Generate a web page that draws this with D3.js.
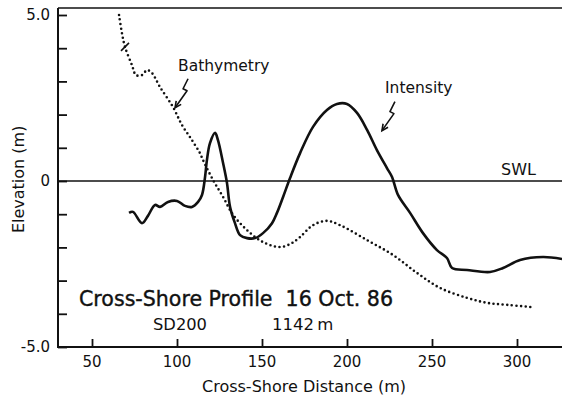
<!DOCTYPE html>
<html>
<head>
<meta charset="utf-8">
<script src="https://cdn.jsdelivr.net/npm/d3@7"></script>
<style>
  html, body { margin: 0; padding: 0; background: #ffffff; }
  svg { display: block; }
  text { font-family: "DejaVu Sans", "Open Sans", sans-serif; fill: #111; }
</style>
</head>
<body>
<svg id="chart" width="562" height="400"></svg>
<script>
// ---- data ----
const bathyX = [65.9, 67.6, 69.4, 73.5, 75.9, 79.4, 82.4, 85.3, 90.0, 97.6, 102.9, 108.8, 113.5, 115.3, 121.2, 127.1, 133.0, 141.2, 150.6, 160.6, 167.6, 172.4, 180.0, 188.2, 195.9, 211.8, 227.1, 241.2, 254.7, 270.6, 282.4, 294.1, 309.4];
const bathyY = [5.0, 4.46, 4.04, 3.49, 3.19, 3.19, 3.34, 3.25, 2.83, 2.23, 1.69, 1.23, 0.84, 0.63, 0.03, -0.48, -1.02, -1.48, -1.84, -1.99, -1.87, -1.69, -1.33, -1.20, -1.33, -1.78, -2.23, -2.77, -3.22, -3.52, -3.67, -3.73, -3.80];

const intenX = [71.8, 74.1, 79.4, 82.9, 87.1, 90.0, 94.7, 100.0, 104.7, 108.8, 112.4, 114.7, 116.5, 117.6, 119.4, 122.4, 124.1, 127.1, 129.4, 131.2, 134.1, 137.1, 141.2, 145.9, 150.6, 155.9, 158.8, 162.4, 166.5, 172.4, 180.0, 188.2, 194.1, 200.0, 205.9, 211.8, 217.6, 223.5, 226.5, 230.0, 237.1, 244.7, 252.9, 258.8, 261.8, 270.6, 284.1, 291.8, 301.8, 315.3, 326.5];
const intenY = [-0.96, -0.93, -1.27, -1.05, -0.72, -0.78, -0.63, -0.60, -0.75, -0.78, -0.63, -0.42, 0.12, 0.63, 1.14, 1.45, 1.23, 0.54, -0.06, -0.78, -1.27, -1.63, -1.72, -1.72, -1.57, -1.27, -0.96, -0.48, 0.09, 0.84, 1.63, 2.14, 2.32, 2.32, 2.05, 1.54, 0.93, 0.39, 0.12, -0.42, -0.96, -1.57, -2.08, -2.32, -2.62, -2.68, -2.74, -2.62, -2.38, -2.29, -2.35];

const xTicks = [50, 100, 150, 200, 250, 300];
const yTicks = [-5, -4, -3, -2, -1, 0, 1, 2, 3, 4, 5];
const yTickLabels = {"5": "5.0", "0": "0", "-5": "-5.0"};

// ---- scales ----
const svg = d3.select("#chart");
const x = d3.scaleLinear().domain([30, 330]).range([58, 568]);
const y = d3.scaleLinear().domain([-5, 5]).range([347, 15]);
const yTop = 5.21;

// frame
const frame = svg.append("g").attr("stroke", "#111").attr("stroke-width", 2).attr("fill", "none");
frame.append("line").attr("x1", x(30)).attr("x2", 562).attr("y1", y(yTop)).attr("y2", y(yTop)).attr("stroke-width", 1.6);
frame.append("line").attr("x1", x(30)).attr("x2", x(30)).attr("y1", y(yTop)).attr("y2", y(-5) + 1);
frame.append("line").attr("x1", x(30)).attr("x2", 562).attr("y1", y(-5)).attr("y2", y(-5));

// axes (inner ticks)
const xAxis = d3.axisTop(x).tickValues(xTicks).tickSize(8).tickFormat("");
const gx = svg.append("g").attr("transform", `translate(0,${y(-5)})`).call(xAxis);
gx.select(".domain").remove();
gx.selectAll(".tick line").attr("stroke", "#111").attr("stroke-width", 1.8);

const yAxis = d3.axisRight(y).tickValues(yTicks).tickSize(9).tickFormat("");
const gy = svg.append("g").attr("transform", `translate(${x(30)},0)`).call(yAxis);
gy.select(".domain").remove();
gy.selectAll(".tick line").attr("stroke", "#111").attr("stroke-width", 1.8);

// tick labels
svg.append("g").selectAll("text").data(xTicks).join("text")
  .attr("x", d => x(d)).attr("y", 367)
  .attr("text-anchor", "middle").attr("font-size", 15).text(d => d);
svg.append("g").selectAll("text").data(yTicks.filter(d => yTickLabels[d] !== undefined)).join("text")
  .attr("x", 50).attr("y", d => y(d) + 5)
  .attr("text-anchor", "end").attr("font-size", 15).text(d => yTickLabels[d]);

// axis titles
svg.append("text").attr("x", 304).attr("y", 392).attr("text-anchor", "middle")
  .attr("font-size", 16).text("Cross-Shore Distance (m)");
svg.append("text").attr("transform", `translate(24,${y(0.05)}) rotate(-90)`).attr("text-anchor", "middle")
  .attr("font-size", 16).text("Elevation (m)");

// SWL line
svg.append("line").attr("x1", x(30)).attr("x2", 562).attr("y1", y(0)).attr("y2", y(0))
  .attr("stroke", "#111").attr("stroke-width", 1.6);

// bathymetry (dotted) and intensity (solid)
const bathy = bathyX.map((d, i) => [d, bathyY[i]]);
const inten = intenX.map((d, i) => [d, intenY[i]]);
const line = d3.line().x(d => x(d[0])).y(d => y(d[1])).curve(d3.curveCatmullRom.alpha(0.5));

svg.append("path").datum(bathy).attr("d", line)
  .attr("fill", "none").attr("stroke", "#111").attr("stroke-width", 2.6)
  .attr("stroke-linecap", "round").attr("stroke-dasharray", "0,4.6");

svg.append("path").datum(inten).attr("d", line)
  .attr("fill", "none").attr("stroke", "#111").attr("stroke-width", 2.6)
  .attr("stroke-linejoin", "round");

// labels
svg.append("text").attr("x", 178).attr("y", 71).attr("font-size", 15.5).text("Bathymetry");
svg.append("text").attr("x", 385).attr("y", 93).attr("font-size", 15.5).text("Intensity");
svg.append("text").attr("x", 501).attr("y", 175).attr("font-size", 16).text("SWL");

// squiggle arrows (data-space anchors)
function squiggle(x0, y0) {
  const px = x(x0), py = y(y0);
  const pts = [[px, py], [px - 5, py + 10], [px - 1, py + 12], [px - 13, py + 29]];
  svg.append("path").attr("d", d3.line()(pts)).attr("fill", "none")
    .attr("stroke", "#111").attr("stroke-width", 1.6).attr("stroke-linejoin", "round");
  const tip = pts[3];
  const ang = Math.atan2(tip[1] - pts[2][1], tip[0] - pts[2][0]);
  const L = 7, W = 0.45;
  const a1 = [tip[0] - L * Math.cos(ang - W), tip[1] - L * Math.sin(ang - W)];
  const a2 = [tip[0] - L * Math.cos(ang + W), tip[1] - L * Math.sin(ang + W)];
  svg.append("path").attr("d", `M${a1}L${tip}L${a2}`).attr("fill", "none")
    .attr("stroke", "#111").attr("stroke-width", 1.6);
}
squiggle(106.5, 3.08);
squiggle(228.2, 2.39);

// small cross mark on bathymetry
const cx = x(69.4), cy = y(4.04);
svg.append("path").attr("d", `M${cx - 4},${cy + 4}L${cx + 4},${cy - 4}`)
  .attr("stroke", "#111").attr("stroke-width", 1.6);

// title block
svg.append("text").attr("x", 79).attr("y", 306).attr("font-size", 21.5)
  .attr("stroke", "#111").attr("stroke-width", 0.4)
  .attr("textLength", 314).attr("lengthAdjust", "spacingAndGlyphs")
  .attr("xml:space", "preserve").text("Cross-Shore Profile  16 Oct. 86");
svg.append("text").attr("x", 153).attr("y", 330).attr("font-size", 16.5)
  .attr("textLength", 54).attr("lengthAdjust", "spacingAndGlyphs").text("SD200");
svg.append("text").attr("x", 272).attr("y", 330).attr("font-size", 16.5)
  .text("1142\u2009m");
</script>
</body>
</html>
